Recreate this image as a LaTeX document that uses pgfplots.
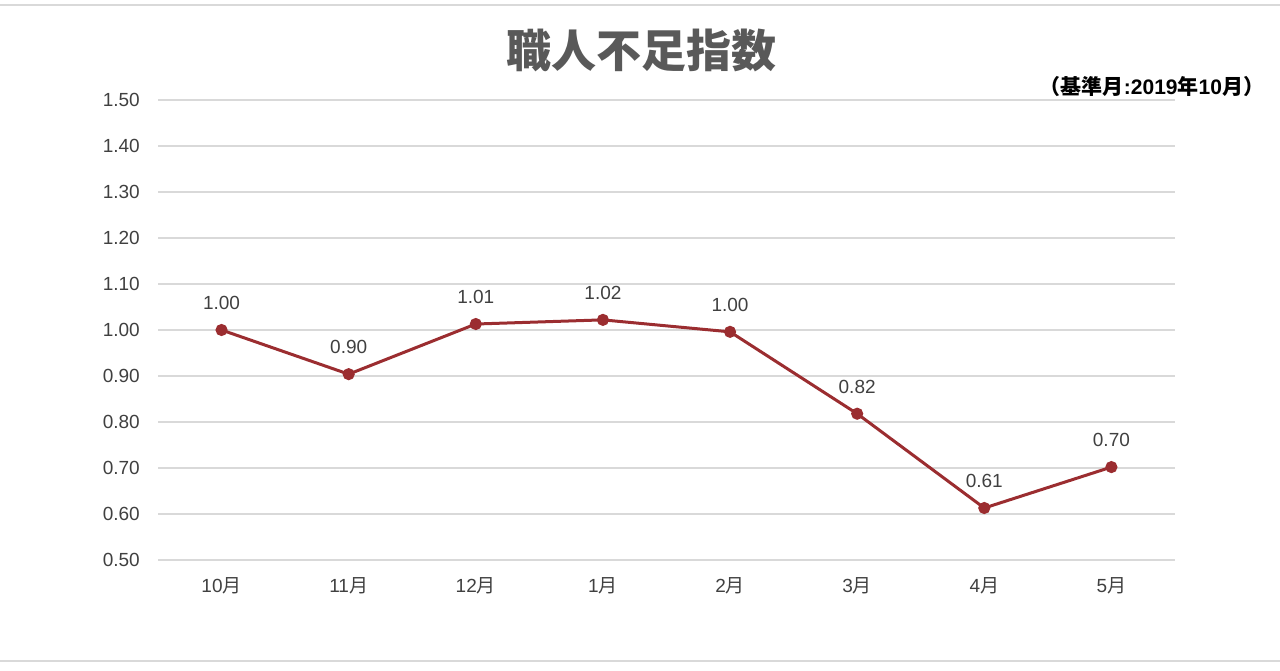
\documentclass[border=0pt]{standalone}
\usepackage{pgfplots}
\pgfplotsset{compat=1.18}
\usepackage{fontspec}
\setmainfont{Liberation Sans}
\newfontfamily\cjk{Noto Sans CJK JP}
\definecolor{linered}{RGB}{155,45,48}
\definecolor{gridgray}{RGB}{217,217,217}
\definecolor{txtgray}{RGB}{64,64,64}
\definecolor{titlegray}{RGB}{89,89,89}
\begin{document}
\begin{tikzpicture}[x=1pt,y=1pt]
    \useasboundingbox (0,0) rectangle (1280,670);
    \draw[gridgray, line width=2pt] (0,665) -- (1280,665);
    \draw[gridgray, line width=2pt] (0,9) -- (1280,9);
    \node[titlegray, font=\cjk\bfseries\fontsize{45}{52}\selectfont] at (641,620) {職人不足指数};
    \node[black, font=\fontsize{21}{25}\selectfont\bfseries] at (1152,583)
        {{\cjk （基準月}:2019{\cjk 年}10{\cjk 月）}};
    \begin{axis}[
        at={(158pt,110pt)}, anchor=south west,
        scale only axis,
        width=1017pt, height=460pt,
        xmin=-0.5, xmax=7.5,
        ymin=0.5, ymax=1.5,
        xtick={0,1,2,3,4,5,6,7},
        xticklabels={10{\cjk 月},11{\cjk 月},12{\cjk 月},1{\cjk 月},2{\cjk 月},3{\cjk 月},4{\cjk 月},5{\cjk 月}},
        ytick={0.5,0.6,0.7,0.8,0.9,1.0,1.1,1.2,1.3,1.4,1.5},
        /pgf/number format/assume math mode=true,
        yticklabel={\pgfmathprintnumber[fixed,fixed zerofill,precision=2]{\tick}},
        axis line style={draw=none},
        major tick length=0pt,
        ymajorgrids=true,
        grid style={gridgray, line width=1.2pt},
        tick label style={txtgray, font=\fontsize{19}{22}\selectfont},
        yticklabel style={anchor=east, inner sep=0pt, xshift=-18pt},
        xticklabel style={anchor=north, inner sep=0pt, yshift=-17pt},
        clip=false,
    ]
        \addplot[color=linered, line width=3pt, mark=*, mark size=4.5pt,
            nodes near coords={\pgfmathprintnumber[fixed,fixed zerofill,precision=2]{\pgfplotspointmeta}},
            every node near coord/.append style={txtgray, font=\fontsize{19}{22}\selectfont, anchor=center, yshift=27pt},
            point meta=explicit]
            coordinates {(0,1.000)[1.00] (1,0.904)[0.90] (2,1.013)[1.01] (3,1.022)[1.02]
                         (4,0.996)[1.00] (5,0.818)[0.82] (6,0.613)[0.61] (7,0.702)[0.70]};
    \end{axis}
\end{tikzpicture}
\end{document}
